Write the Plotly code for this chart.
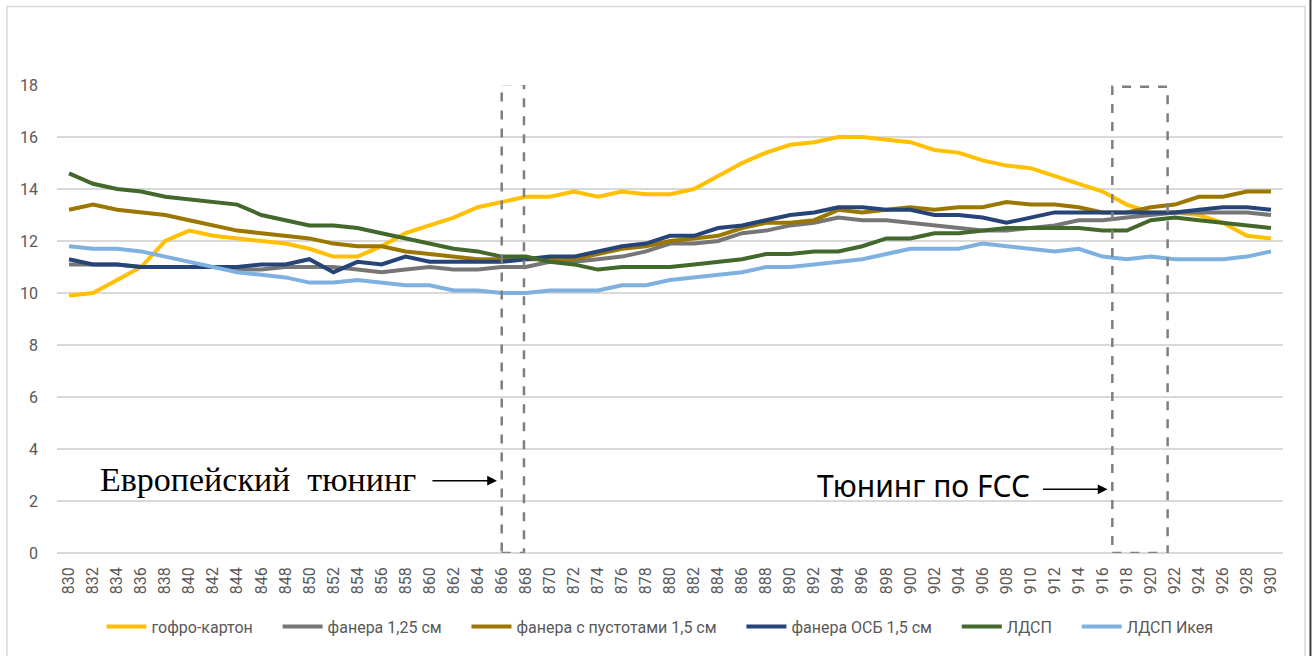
import plotly.graph_objects as go

freq = list(range(830, 932, 2))

gofro = [9.9, 10.0, 10.5, 11.0, 12.0, 12.4, 12.2, 12.1, 12.0, 11.9, 11.7, 11.4, 11.4, 11.8, 12.3, 12.6,
         12.9, 13.3, 13.5, 13.7, 13.7, 13.9, 13.7, 13.9, 13.8, 13.8, 14.0, 14.5, 15.0, 15.4, 15.7, 15.8,
         16.0, 16.0, 15.9, 15.8, 15.5, 15.4, 15.1, 14.9, 14.8, 14.5, 14.2, 13.9, 13.4, 13.1, 13.1, 13.0,
         12.7, 12.2, 12.1]
fanera125 = [11.1, 11.1, 11.1, 11.0, 11.0, 11.0, 11.0, 10.9, 10.9, 11.0, 11.0, 11.0, 10.9, 10.8, 10.9, 11.0,
             10.9, 10.9, 11.0, 11.0, 11.2, 11.2, 11.3, 11.4, 11.6, 11.9, 11.9, 12.0, 12.3, 12.4, 12.6, 12.7,
             12.9, 12.8, 12.8, 12.7, 12.6, 12.5, 12.4, 12.4, 12.5, 12.6, 12.8, 12.8, 12.9, 13.0, 13.1, 13.1,
             13.1, 13.1, 13.0]
fanera_pust = [13.2, 13.4, 13.2, 13.1, 13.0, 12.8, 12.6, 12.4, 12.3, 12.2, 12.1, 11.9, 11.8, 11.8, 11.6, 11.5,
               11.4, 11.3, 11.3, 11.3, 11.3, 11.3, 11.5, 11.7, 11.8, 12.0, 12.1, 12.2, 12.5, 12.7, 12.7, 12.8,
               13.2, 13.1, 13.2, 13.3, 13.2, 13.3, 13.3, 13.5, 13.4, 13.4, 13.3, 13.1, 13.1, 13.3, 13.4, 13.7,
               13.7, 13.9, 13.9]
fanera_osb = [11.3, 11.1, 11.1, 11.0, 11.0, 11.0, 11.0, 11.0, 11.1, 11.1, 11.3, 10.8, 11.2, 11.1, 11.4, 11.2,
              11.2, 11.2, 11.2, 11.3, 11.4, 11.4, 11.6, 11.8, 11.9, 12.2, 12.2, 12.5, 12.6, 12.8, 13.0, 13.1,
              13.3, 13.3, 13.2, 13.2, 13.0, 13.0, 12.9, 12.7, 12.9, 13.1, 13.1, 13.1, 13.1, 13.1, 13.1, 13.2,
              13.3, 13.3, 13.2]
ldsp = [14.6, 14.2, 14.0, 13.9, 13.7, 13.6, 13.5, 13.4, 13.0, 12.8, 12.6, 12.6, 12.5, 12.3, 12.1, 11.9,
        11.7, 11.6, 11.4, 11.4, 11.2, 11.1, 10.9, 11.0, 11.0, 11.0, 11.1, 11.2, 11.3, 11.5, 11.5, 11.6,
        11.6, 11.8, 12.1, 12.1, 12.3, 12.3, 12.4, 12.5, 12.5, 12.5, 12.5, 12.4, 12.4, 12.8, 12.9, 12.8,
        12.7, 12.6, 12.5]
ldsp_ikea = [11.8, 11.7, 11.7, 11.6, 11.4, 11.2, 11.0, 10.8, 10.7, 10.6, 10.4, 10.4, 10.5, 10.4, 10.3, 10.3,
             10.1, 10.1, 10.0, 10.0, 10.1, 10.1, 10.1, 10.3, 10.3, 10.5, 10.6, 10.7, 10.8, 11.0, 11.0, 11.1,
             11.2, 11.3, 11.5, 11.7, 11.7, 11.7, 11.9, 11.8, 11.7, 11.6, 11.7, 11.4, 11.3, 11.4, 11.3, 11.3,
             11.3, 11.4, 11.6]

series_names = ["гофро-картон", "фанера 1,25 см", "фанера с пустотами 1,5 см",
                "фанера ОСБ 1,5 см", "ЛДСП", "ЛДСП Икея"]
series_values = [gofro, fanera125, fanera_pust, fanera_osb, ldsp, ldsp_ikea]
colors = ["#FFC000", "#767676", "#9C7700", "#264478", "#43682B", "#7EB1E0"]

# annotation regions (frequency bands)
eu_band = [866.0, 867.85]
fcc_band = [916.8, 921.4]
y_max = 18

fig = go.Figure()
pad = "\u00a0" * 5
for name, vals, col in zip(series_names, series_values, colors):
    fig.add_trace(go.Scatter(x=freq, y=vals, mode="lines", name=name + pad,
                             line=dict(color=col, width=4)))

# dashed rectangles
fig.add_shape(type="rect", xref="x", yref="y", x0=eu_band[0], x1=eu_band[1], y0=0, y1=18.04,
              line=dict(color="#7F7F7F", width=2.5, dash="dash"))
fig.add_shape(type="rect", xref="x", yref="y", x0=fcc_band[0], x1=fcc_band[1], y0=0, y1=17.93,
              line=dict(color="#7F7F7F", width=2.5, dash="dash"))

# outer chart border
fig.add_shape(type="rect", xref="paper", yref="paper", x0=-0.0408, x1=1.018, y0=-0.3, y1=1.168,
              line=dict(color="#D9D9D9", width=1.5), layer="below")
fig.add_shape(type="line", xref="paper", yref="paper", x0=1.0224, x1=1.0224, y0=-0.3, y1=1.3,
              line=dict(color="#404040", width=2))

# text annotations
fig.add_annotation(xref="paper", yref="paper", x=0.164, y=0.157, text="Европейский&nbsp;&nbsp;тюнинг",
                   showarrow=False, font=dict(family="Liberation Serif", size=34, color="black"),
                   xanchor="center", yanchor="middle")
fig.add_annotation(xref="x", yref="y", x=865.6, y=2.78, ax=-66, ay=0, text="",
                   showarrow=True, arrowhead=2, arrowsize=1.3, arrowwidth=1.5, arrowcolor="black")
fig.add_annotation(xref="paper", yref="paper", x=0.707, y=0.144, text="Тюнинг по FCC",
                   showarrow=False, font=dict(family="Noto Sans", size=30, color="black"),
                   xanchor="center", yanchor="middle")
fig.add_annotation(xref="x", yref="y", x=916.4, y=2.45, ax=-66, ay=0, text="",
                   showarrow=True, arrowhead=2, arrowsize=1.3, arrowwidth=1.5, arrowcolor="black")

fig.update_layout(
    width=1312, height=656,
    margin=dict(l=57, r=29, t=85, b=100),
    plot_bgcolor="white", paper_bgcolor="white",
    font=dict(family="Roboto", color="#595959"),
    showlegend=True,
    legend=dict(orientation="h", x=0.5, xanchor="center", y=-0.157, yanchor="middle",
                font=dict(size=16, color="#595959"), itemwidth=40, tracegroupgap=0),
)
fig.update_xaxes(range=[829, 931], tickmode="array", tickvals=freq, ticktext=[str(f) for f in freq],
                 tickangle=-90, showgrid=False, zeroline=False, showline=False, ticks="",
                 tickfont=dict(size=16, color="#595959"), automargin=False, ticklabelstandoff=10)
fig.update_yaxes(range=[0, y_max], dtick=2, showgrid=True, gridcolor="#D9D9D9", gridwidth=1.5,
                 zeroline=True, zerolinecolor="#D9D9D9", zerolinewidth=1.5, showline=False,
                 tickfont=dict(size=16, color="#595959"), ticks="", ticklabelstandoff=18,
                 automargin=False)

fig.write_html("out.html", config={"displayModeBar": False},
               post_script="document.body.style.margin='0';document.body.style.overflow='hidden';")
